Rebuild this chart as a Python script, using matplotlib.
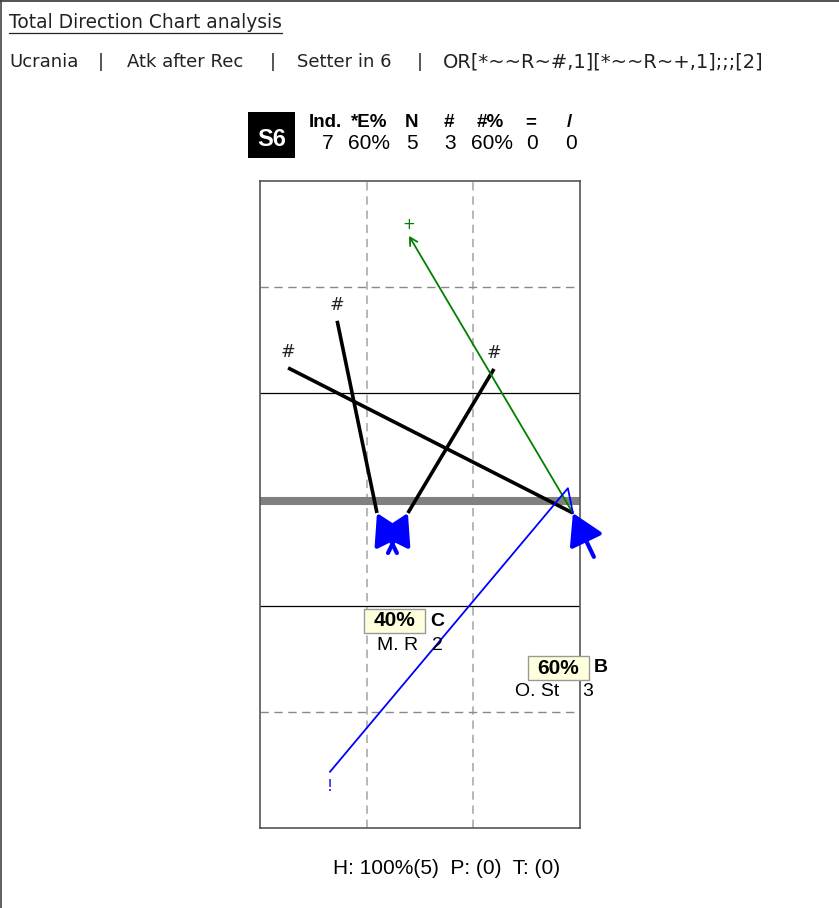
import matplotlib.pyplot as plt
from matplotlib.lines import Line2D
from matplotlib.patches import FancyArrowPatch, Rectangle

# header info
title = "Total Direction Chart analysis"
filters = ["Ucrania", "Atk after Rec", "Setter in 6", "OR[*~~R~#,1][*~~R~+,1];;;[2]"]

# stats table
stat_heads = ["Ind.", "*E%", "N", "#", "#%", "=", "/"]
stat_vals = ["7", "60%", "5", "3", "60%", "0", "0"]
rotation = "S6"

# attacks (court metres, x 0-9 left->right, y 0-18 top->bottom, net at 9)
start_x = [3.29, 4.16, 8.80, 8.80, 8.80]
start_y = [9.38, 9.38, 9.38, 9.38, 9.38]
end_x = [2.17, 6.58, 0.79, 4.19, 1.97]
end_y = [3.95, 5.31, 5.28, 1.55, 16.69]
outcome = ["#", "#", "#", "+", "!"]

# set arrival (tail of blue arrows)
set_from_x = [3.85, 3.60, 9.39]
set_from_y = [10.51, 10.51, 10.62]
set_to_x = [3.29, 4.16, 8.80]
set_to_y = [9.38, 9.38, 9.38]

# zone summary
zone_pct = ["40%", "60%"]
zone_letter = ["C", "B"]
zone_player = ["M. R", "O. St"]
zone_count = [2, 3]

footer = "H: 100%(5)  P: (0)  T: (0)"

W, H = 839, 908


def fx(px):
    return px / W


def fy(py):
    return 1 - py / H


fig = plt.figure(figsize=(W / 100, H / 100), dpi=100)

# outer frame (top and left)
fig.add_artist(Line2D([0, 1], [fy(0.8), fy(0.8)], color='#333333', lw=1.2, transform=fig.transFigure))
fig.add_artist(Line2D([fx(0.8), fx(0.8)], [0, 1], color='#444444', lw=1.2, transform=fig.transFigure))

# title + filters
fig.text(fx(9), fy(23), title, fontsize=13.4, family='DejaVu Sans', va='center', ha='left', color='#222222')
fig.add_artist(Line2D([fx(9), fx(282)], [fy(33), fy(33)], color='#222222', lw=0.9, transform=fig.transFigure))
filt_x = [9, 127, 297, 443]
filt_size = [13, 13, 13, 14]
bar_x = [101, 273, 420]
for i, f in enumerate(filters):
    fig.text(fx(filt_x[i]), fy(62), f, fontsize=filt_size[i], family='DejaVu Sans', va='center',
             ha='left', color='#222222')
for b in bar_x:
    fig.text(fx(b), fy(62), "|", fontsize=13, family='DejaVu Sans', va='center', ha='center', color='#222222')

# stats block
fig.add_artist(Rectangle((fx(248), fy(158)), fx(295) - fx(248), fy(112) - fy(158),
                         facecolor='black', edgecolor='none', transform=fig.transFigure))
fig.text(fx(272), fy(140), rotation, fontsize=17, family='Liberation Sans', weight='bold',
         color='white', ha='center', va='center')
head_x = [325, 369, 412, 449, 490, 531, 569]
val_x = [328, 369, 412, 450, 492, 532, 571]
for hx, h in zip(head_x, stat_heads):
    fig.text(fx(hx), fy(127), h, fontsize=13.5, family='Liberation Sans', weight='bold',
             ha='center', va='baseline')
for vx, v in zip(val_x, stat_vals):
    fig.text(fx(vx), fy(149), v, fontsize=15, family='Liberation Sans', ha='center', va='baseline')

# court
ax = fig.add_axes([fx(260), fy(828), fx(580) - fx(260), fy(181) - fy(828)])
ax.set_xlim(0, 9)
ax.set_ylim(18.28, 0)
ax.set_xticks([])
ax.set_yticks([])
for s in ax.spines.values():
    s.set_color('#555555')
    s.set_linewidth(1.2)

for xv in [3, 6]:
    ax.axvline(xv, color='#aaaaaa', lw=1.2, dashes=(5, 3.5))
for yv in [3, 15]:
    ax.axhline(yv, color='#888888', lw=1.0, dashes=(6, 4))
for yv in [6, 12]:
    ax.axhline(yv, color='black', lw=0.9)
ax.axhline(9.05, color='#808080', lw=5.8)

# set arrows (blue, thick)
for x0, y0, x1, y1 in zip(set_from_x, set_from_y, set_to_x, set_to_y):
    ax.add_patch(FancyArrowPatch((x0, y0), (x1, y1), arrowstyle='-|>,head_length=0.85,head_width=0.5',
                                 mutation_scale=22, color='blue', lw=3, shrinkA=0, shrinkB=0,
                                 zorder=5, clip_on=False))

# attacks
for x0, y0, x1, y1, o in zip(start_x, start_y, end_x, end_y, outcome):
    if o == "#":
        ax.plot([x0, x1], [y0, y1], color='black', lw=2.6, solid_capstyle='butt', zorder=4)
        ax.text(x1, y1 - 0.2, o, fontsize=12.5, family='DejaVu Sans', style='italic',
                ha='center', va='bottom', color='#222222')
    elif o == "+":
        ax.add_patch(FancyArrowPatch((x0, y0), (x1, y1), arrowstyle='->,head_length=0.45,head_width=0.25',
                                     mutation_scale=12, color='green', lw=1.3, shrinkA=0, shrinkB=0, zorder=4))
        ax.text(x1, y1 - 0.12, o, fontsize=11, color='green', ha='center', va='bottom')
    else:
        # ball deflected off the block: goes up to the net then back down
        ax.plot([x0, x0 - 0.14, x1], [y0, y0 - 0.7, y1], color='blue', lw=1.3, zorder=4)
        ax.text(x1, y1 + 0.2, o, fontsize=11, color='blue', ha='center', va='top')

# zone labels
box_left = [364, 528]
box_top = [609, 656]
player_dx = [13, -13]
count_dx = [68, 54]
for i in range(len(zone_pct)):
    bl, bt = box_left[i], box_top[i]
    fig.add_artist(Rectangle((fx(bl), fy(bt + 24)), fx(61), 24 / H, facecolor='#ffffdd',
                             edgecolor='#999999', lw=1, transform=fig.transFigure, zorder=6))
    fig.text(fx(bl + 30), fy(bt + 12), zone_pct[i], fontsize=15, family='Liberation Sans', weight='bold',
             ha='center', va='center', zorder=7)
    fig.text(fx(bl + 66), fy(bt + 12), zone_letter[i], fontsize=14, family='Liberation Sans', weight='bold',
             ha='left', va='center', zorder=7)
    fig.text(fx(bl + player_dx[i]), fy(bt + 36), zone_player[i], fontsize=14,
             family='Liberation Sans', ha='left', va='center', zorder=7)
    fig.text(fx(bl + count_dx[i]), fy(bt + 36), str(zone_count[i]), fontsize=14,
             family='Liberation Sans', ha='left', va='center', zorder=7)

fig.text(fx(447), fy(868), footer, fontsize=15, family='Liberation Sans', ha='center', va='center')

fig.savefig('out.png', dpi=100)
